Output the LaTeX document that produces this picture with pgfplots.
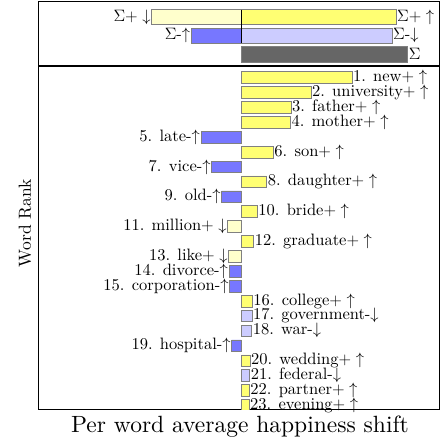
\RequirePackage{fix-cm}
\documentclass[border=0pt]{standalone}
\usepackage{fontspec}
\setmainfont{lmroman10-regular.otf}
\usepackage{pgfplots}
\pgfplotsset{compat=1.18}
\definecolor{yel}{RGB}{255,255,115}
\definecolor{lyel}{RGB}{255,255,204}
\definecolor{blu}{RGB}{119,119,255}
\definecolor{lblu}{RGB}{204,204,255}
\definecolor{gry}{RGB}{102,102,102}
\definecolor{edge}{RGB}{128,128,128}
\newcommand{\lblfont}{\fontsize{16.5}{19}\selectfont}
\pgfplotsset{
  posbar/.style={xbar, bar shift=0pt, draw=edge, line width=0.6pt, nodes near coords, point meta=explicit symbolic,
    every node near coord/.append style={anchor=west, font=\lblfont, inner sep=0.8pt, text=black}},
  negbar/.style={xbar, bar shift=0pt, draw=edge, line width=0.6pt, nodes near coords, point meta=explicit symbolic,
    every node near coord/.append style={anchor=east, font=\lblfont, inner sep=0.8pt, text=black}},
}
\begin{document}
\begin{tikzpicture}
\path[use as bounding box] (0,0) rectangle (448pt,438pt);
% top summary panel
\begin{axis}[
  at={(38.7pt,372pt)}, anchor=south west, scale only axis,
  width=400.8pt, height=64.7pt,
  xmin=-2.026, xmax=1.982, ymin=0.156, ymax=3.634, y dir=reverse,
  xtick=\empty, ytick=\empty,
  axis line style={line width=1.3pt},
  clip=false,
]
\addplot[negbar, bar width=0.8, fill=lyel] coordinates {(-0.896,1) [$\Sigma+\downarrow$]};
\addplot[posbar, bar width=0.8, fill=yel] coordinates {(1.547,1) [$\Sigma+\uparrow$]};
\addplot[negbar, bar width=0.8, fill=blu] coordinates {(-0.50,2) [$\Sigma$-$\uparrow$]};
\addplot[posbar, bar width=0.8, fill=lblu] coordinates {(1.507,2) [$\Sigma$-$\downarrow$]};
\addplot[posbar, bar width=0.85, fill=gry] coordinates {(1.664,3) [$\Sigma$]};
\draw[black, line width=0.8pt] (axis cs:0,0.6) -- (axis cs:0,2.4);
\end{axis}
% main word panel
\begin{axis}[
  at={(38.7pt,28.5pt)}, anchor=south west, scale only axis,
  width=400.8pt, height=343.5pt,
  xmin=-2.026, xmax=1.982, ymin=0.228, ymax=23.28, y dir=reverse,
  xtick=\empty, ytick=\empty,
  axis line style={line width=1.3pt},
]
\addplot[posbar, bar width=0.78, fill=yel] coordinates {
(1.107,1) [1. new$+\uparrow$]
(0.697,2) [2. university$+\uparrow$]
(0.497,3) [3. father$+\uparrow$]
(0.492,4) [4. mother$+\uparrow$]
(0.320,6) [6. son$+\uparrow$]
(0.254,8) [8. daughter$+\uparrow$]
(0.160,10) [10. bride$+\uparrow$]
(0.124,12) [12. graduate$+\uparrow$]
(0.110,16) [16. college$+\uparrow$]
(0.087,20) [20. wedding$+\uparrow$]
(0.080,22) [22. partner$+\uparrow$]
(0.078,23) [23. evening$+\uparrow$]
};
\addplot[negbar, bar width=0.78, fill=blu] coordinates {
(-0.403,5) [5. late-$\uparrow$]
(-0.296,7) [7. vice-$\uparrow$]
(-0.196,9) [9. old-$\uparrow$]
(-0.123,14) [14. divorce-$\uparrow$]
(-0.116,15) [15. corporation-$\uparrow$]
(-0.096,19) [19. hospital-$\uparrow$]
};
\addplot[negbar, bar width=0.78, fill=lyel] coordinates {
(-0.136,11) [11. million$+\downarrow$]
(-0.126,13) [13. like$+\downarrow$]
};
\addplot[posbar, bar width=0.78, fill=lblu] coordinates {
(0.107,17) [17. government-$\downarrow$]
(0.104,18) [18. war-$\downarrow$]
(0.084,21) [21. federal-$\downarrow$]
};
\end{axis}
\node[rotate=90, font=\fontsize{17.5}{20}\selectfont] at (25pt,215pt) {Word Rank};
\node[font=\fontsize{23.5}{26}\selectfont] at (240pt,11pt) {Per word average happiness shift};
\end{tikzpicture}
\end{document}
